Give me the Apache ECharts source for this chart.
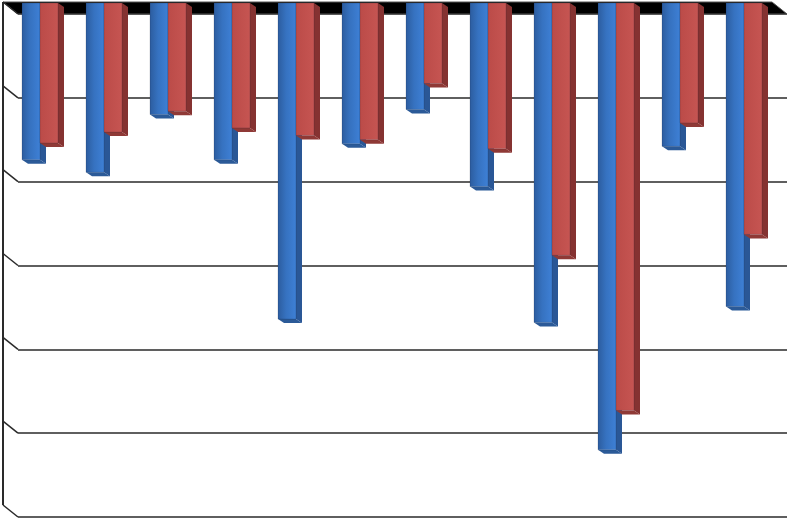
<!DOCTYPE html>
<html>
<head>
<meta charset="utf-8">
<style>
html,body{margin:0;padding:0;background:#fff;}
#chart{width:791px;height:522px;}
</style>
<script src="https://cdn.jsdelivr.net/npm/echarts@6/dist/echarts.min.js"></script>
</head>
<body>
<div id="chart"></div>
<script>
const categories = ['1','2','3','4','5','6','7','8','9','10','11','12'];
const blueValues = [-1.87,-2.02,-1.33,-1.87,-3.77,-1.68,-1.27,-2.19,-3.81,-5.33,-1.71,-3.62];
const redValues  = [-1.67,-1.54,-1.29,-1.49,-1.58,-1.63,-0.96,-1.74,-3.01,-4.86,-1.43,-2.76];
const yTicks = [0,-1,-2,-3,-4,-5,-6];

const DX = 6, DY = 4;       // bar depth
const WX = 15, WY = 12;     // wall depth

function barGroup(api, isRed, front, side, bottom) {
  const i = api.value(0), v = api.value(1);
  const p0 = api.coord([i, 0]);
  const p1 = api.coord([i, v]);
  const w = api.size([1, 0])[0] * 0.28125;
  const x0 = isRed ? p0[0] : p0[0] - w;
  const x1 = x0 + w;
  const yt = p0[1], yb = p1[1];
  return {
    type: 'group',
    children: [
      { type: 'polygon', shape: { points: [[x1, yt], [x1 + DX, yt + DY], [x1 + DX, yb + DY], [x1, yb]] },
        style: { fill: side } },
      { type: 'polygon', shape: { points: [[x0, yb], [x1, yb], [x1 + DX, yb + DY], [x0 + DX, yb + DY]] },
        style: { fill: bottom } },
      { type: 'rect', shape: { x: x0, y: yt, width: w, height: yb - yt },
        style: { fill: front, stroke: 'rgba(20,30,50,0.35)', lineWidth: 0.5 } }
    ]
  };
}

const blueFront = new echarts.graphic.LinearGradient(0, 0, 1, 0, [
  { offset: 0, color: '#2c5c9e' }, { offset: 0.45, color: '#3672c0' }, { offset: 1, color: '#3e80d6' }
]);
const redFront = new echarts.graphic.LinearGradient(0, 0, 1, 0, [
  { offset: 0, color: '#bb4b48' }, { offset: 1, color: '#c65552' }
]);

const chart = echarts.init(document.getElementById('chart'), null, { renderer: 'canvas' });
chart.setOption({
  animation: false,
  backgroundColor: '#fff',
  grid: [
    { left: 18, right: 4, top: 14, bottom: 5 },
    { left: 8, right: 15, top: 3, bottom: 16 }
  ],
  xAxis: [
    { gridIndex: 0, type: 'value', min: 0, max: 1, show: false },
    { gridIndex: 1, type: 'category', data: categories, show: false }
  ],
  yAxis: [
    { gridIndex: 0, type: 'value', min: -6, max: 0, interval: 1,
      axisLine: { show: false }, axisTick: { show: false }, axisLabel: { show: false },
      splitLine: { show: true, lineStyle: { color: '#2a2a2a', width: 1.5 } } },
    { gridIndex: 1, type: 'value', min: -6, max: 0, interval: 1, show: false,
      splitLine: { show: false } }
  ],
  series: [
    {
      type: 'custom', xAxisIndex: 0, yAxisIndex: 0, z: 1, silent: true,
      data: yTicks.map(t => [0, t]),
      renderItem: function (params, api) {
        const t = api.value(1);
        const p = api.coord([0, t]);
        const children = [
          { type: 'line', shape: { x1: p[0] - WX, y1: p[1] - WY, x2: p[0], y2: p[1] },
            style: { stroke: '#2a2a2a', lineWidth: 1.5 } }
        ];
        if (params.dataIndex === 0) {
          const pr = api.coord([1, 0]);
          const pb = api.coord([0, yTicks[yTicks.length - 1]]);
          children.unshift({ type: 'polygon',
            shape: { points: [[p[0] - WX, p[1] - WY], [pr[0] - WX, pr[1] - WY], [pr[0], pr[1]], [p[0], p[1]]] },
            style: { fill: '#000', stroke: '#555', lineWidth: 1 } });
          children.push({ type: 'line', shape: { x1: p[0] - WX, y1: p[1] - WY, x2: pb[0] - WX, y2: pb[1] - WY },
            style: { stroke: '#2a2a2a', lineWidth: 2 } });
        }
        return { type: 'group', children: children };
      }
    },
    {
      type: 'custom', xAxisIndex: 1, yAxisIndex: 1, z: 3, silent: true,
      data: blueValues.map((v, i) => [i, v]),
      renderItem: function (params, api) {
        return barGroup(api, false, blueFront, '#2a5796', '#2b5a98');
      }
    },
    {
      type: 'custom', xAxisIndex: 1, yAxisIndex: 1, z: 4, silent: true,
      data: redValues.map((v, i) => [i, v]),
      renderItem: function (params, api) {
        return barGroup(api, true, redFront, '#853231', '#8f3936');
      }
    }
  ]
});
</script>
</body>
</html>
